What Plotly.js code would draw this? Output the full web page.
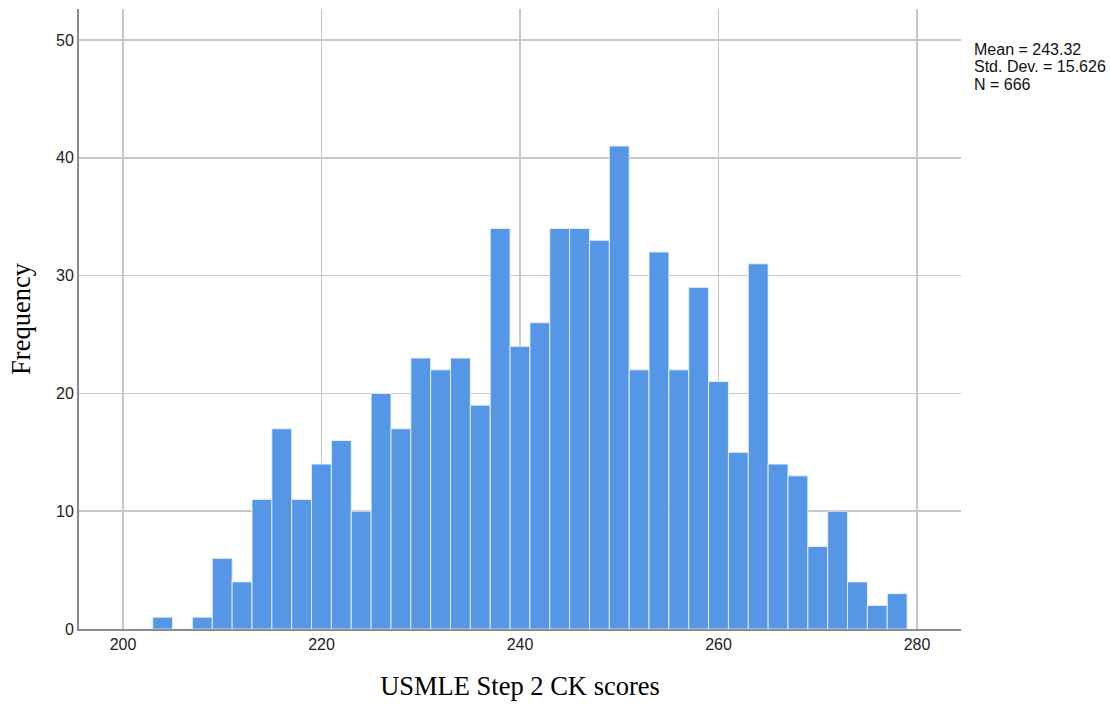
<!DOCTYPE html>
<html>
<head>
<meta charset="utf-8">
<script src="https://cdn.plot.ly/plotly-3.0.1.min.js"></script>
<style>html,body{margin:0;padding:0;background:#fff}#chart{width:1110px;height:705px}</style>
</head>
<body>
<div id="chart"></div>
<script>
// Bin centers (bin width 2) of USMLE Step 2 CK scores
const binCenters = [204,206,208,210,212,214,216,218,220,222,224,226,228,230,232,234,236,238,240,242,244,246,248,250,252,254,256,258,260,262,264,266,268,270,272,274,276,278];
const frequencies = [1,0,1,6,4,11,17,11,14,16,10,20,17,23,22,23,19,34,24,26,34,34,33,41,22,32,22,29,21,15,31,14,13,7,10,4,2,3];
const xTicks = [200,220,240,260,280];
const yTicks = [0,10,20,30,40,50];
const statsLines = ["Mean = 243.32","Std. Dev. = 15.626","N = 666"];

const trace = {
  type: 'bar',
  x: binCenters,
  y: frequencies,
  width: 2,
  marker: {color: '#5596E6', line: {color: 'rgba(235,242,252,0.9)', width: 1}},
  hoverinfo: 'x+y'
};

const statsY = [0.9339, 0.9065, 0.8782];

const layout = {
  width: 1110, height: 705,
  margin: {l: 79, r: 149, t: 9, b: 76},
  paper_bgcolor: '#fff', plot_bgcolor: '#fff',
  showlegend: false,
  bargap: 0,
  xaxis: {
    range: [195.57, 284.43],
    tickvals: xTicks, ticktext: xTicks.map(String),
    showgrid: true, gridcolor: '#c8c8c8', gridwidth: 1.5,
    zeroline: false,
    showline: true, linecolor: '#8c8c8c', linewidth: 2,
    ticks: '', ticklen: 0,
    tickfont: {family: 'Liberation Sans, Arial, sans-serif', size: 16, color: '#222'},
    title: {text: 'USMLE Step 2 CK scores', standoff: 24,
            font: {family: 'Liberation Serif, Times New Roman, serif', size: 26.5, color: '#000'}}
  },
  yaxis: {
    range: [0, 52.63],
    tickvals: yTicks, ticktext: yTicks.map(String),
    showgrid: true, gridcolor: '#c8c8c8', gridwidth: 1.5,
    zeroline: false,
    showline: true, linecolor: '#8c8c8c', linewidth: 2,
    ticks: '', ticklen: 0,
    tickfont: {family: 'Liberation Sans, Arial, sans-serif', size: 16, color: '#222'},
    title: {text: 'Frequency', standoff: 18,
            font: {family: 'Liberation Serif, Times New Roman, serif', size: 26.5, color: '#000'}}
  },
  annotations: statsLines.map((t, i) => ({
    xref: 'paper', yref: 'paper',
    x: 1.0125, y: statsY[i], xanchor: 'left', yanchor: 'middle',
    align: 'left', showarrow: false,
    text: t,
    font: {family: 'Liberation Sans, Arial, sans-serif', size: 16, color: '#111'}
  }))
};

Plotly.newPlot('chart', [trace], layout, {displayModeBar: false, staticPlot: true});
</script>
</body>
</html>
